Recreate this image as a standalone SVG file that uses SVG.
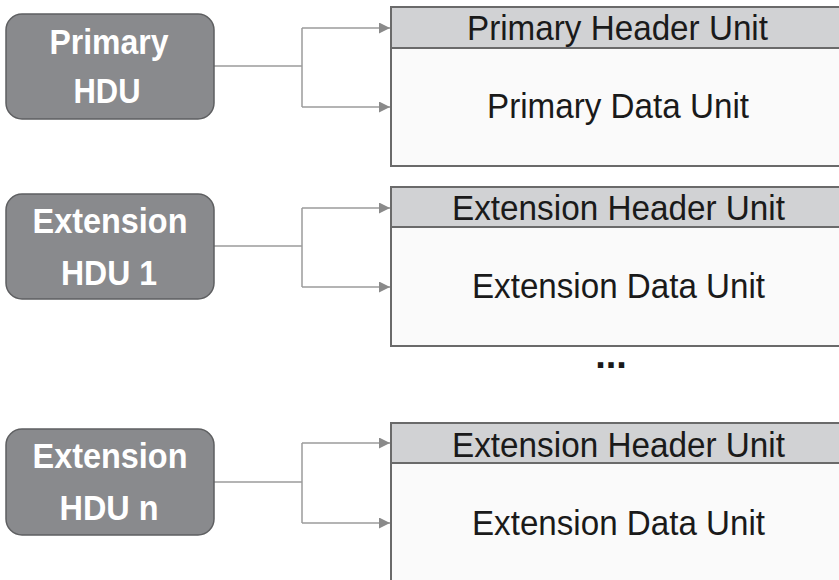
<svg xmlns="http://www.w3.org/2000/svg" width="839" height="580" viewBox="0 0 839 580">
<defs>
<style>
.hdu{fill:#898a8d;stroke:#5e5f61;stroke-width:1.5}
.ht{font-family:"Liberation Sans",Arial,sans-serif;font-weight:bold;font-size:35px;fill:#ffffff;text-anchor:middle}
.hdr{fill:#d1d2d4;stroke:#6a6a6a;stroke-width:2}
.body{fill:#fafafa;stroke:#6a6a6a;stroke-width:2}
.ut{font-family:"Liberation Sans",Arial,sans-serif;font-size:35px;fill:#1a1a1a;text-anchor:middle}
.conn{fill:none;stroke:#9b9b9b;stroke-width:1.5}
</style>
<marker id="arr" viewBox="0 0 10 10" refX="10" refY="5" markerWidth="11" markerHeight="11" markerUnits="userSpaceOnUse" orient="auto">
<path d="M0,0 L10,5 L0,10 Z" fill="#8a8a8a"/>
</marker>
</defs>
<rect width="839" height="580" fill="#ffffff"/>

<g id="connectors">
<path class="conn" d="M214,66 H302"/>
<path class="conn" d="M302,28 V107"/>
<path class="conn" d="M302,28 H390" marker-end="url(#arr)"/>
<path class="conn" d="M302,107 H390" marker-end="url(#arr)"/>

<path class="conn" d="M214,246 H302"/>
<path class="conn" d="M302,208 V287"/>
<path class="conn" d="M302,208 H390" marker-end="url(#arr)"/>
<path class="conn" d="M302,287 H390" marker-end="url(#arr)"/>

<path class="conn" d="M214,482 H302"/>
<path class="conn" d="M302,443 V523"/>
<path class="conn" d="M302,443 H390" marker-end="url(#arr)"/>
<path class="conn" d="M302,523 H390" marker-end="url(#arr)"/>
</g>

<g id="primary-hdu">
<rect class="hdu" x="6" y="14" width="208" height="105" rx="16"/>
<text class="ht" x="109" y="54" textLength="119" lengthAdjust="spacingAndGlyphs">Primary</text>
<text class="ht" x="107" y="103" textLength="67" lengthAdjust="spacingAndGlyphs">HDU</text>
</g>

<g id="extension-hdu-1">
<rect class="hdu" x="6" y="194" width="208" height="105" rx="16"/>
<text class="ht" x="110" y="233" textLength="155" lengthAdjust="spacingAndGlyphs">Extension</text>
<text class="ht" x="109" y="285" textLength="96" lengthAdjust="spacingAndGlyphs">HDU 1</text>
</g>

<g id="extension-hdu-n">
<rect class="hdu" x="6" y="429" width="208" height="106" rx="16"/>
<text class="ht" x="110" y="468" textLength="155" lengthAdjust="spacingAndGlyphs">Extension</text>
<text class="ht" x="109" y="520" textLength="99" lengthAdjust="spacingAndGlyphs">HDU n</text>
</g>

<g id="primary-unit">
<rect class="body" x="391" y="48" width="460" height="118"/>
<rect class="hdr" x="391" y="7" width="460" height="41"/>
<text class="ut" x="617.5" y="40" textLength="301" lengthAdjust="spacingAndGlyphs">Primary Header Unit</text>
<text class="ut" x="618" y="118" textLength="262" lengthAdjust="spacingAndGlyphs">Primary Data Unit</text>
</g>

<g id="extension-unit-1">
<rect class="body" x="391" y="227" width="460" height="119"/>
<rect class="hdr" x="391" y="187" width="460" height="40"/>
<text class="ut" x="618.5" y="220" textLength="333" lengthAdjust="spacingAndGlyphs">Extension Header Unit</text>
<text class="ut" x="618.5" y="298" textLength="293" lengthAdjust="spacingAndGlyphs">Extension Data Unit</text>
</g>

<g id="ellipsis">
<text x="611" y="368" font-family="Liberation Sans,Arial,sans-serif" font-weight="bold" font-size="38" fill="#1a1a1a" text-anchor="middle">...</text>
</g>

<g id="extension-unit-n">
<rect class="body" x="391" y="463" width="460" height="130"/>
<rect class="hdr" x="391" y="423" width="460" height="40"/>
<text class="ut" x="618.5" y="457" textLength="333" lengthAdjust="spacingAndGlyphs">Extension Header Unit</text>
<text class="ut" x="618.5" y="535" textLength="293" lengthAdjust="spacingAndGlyphs">Extension Data Unit</text>
</g>
</svg>
